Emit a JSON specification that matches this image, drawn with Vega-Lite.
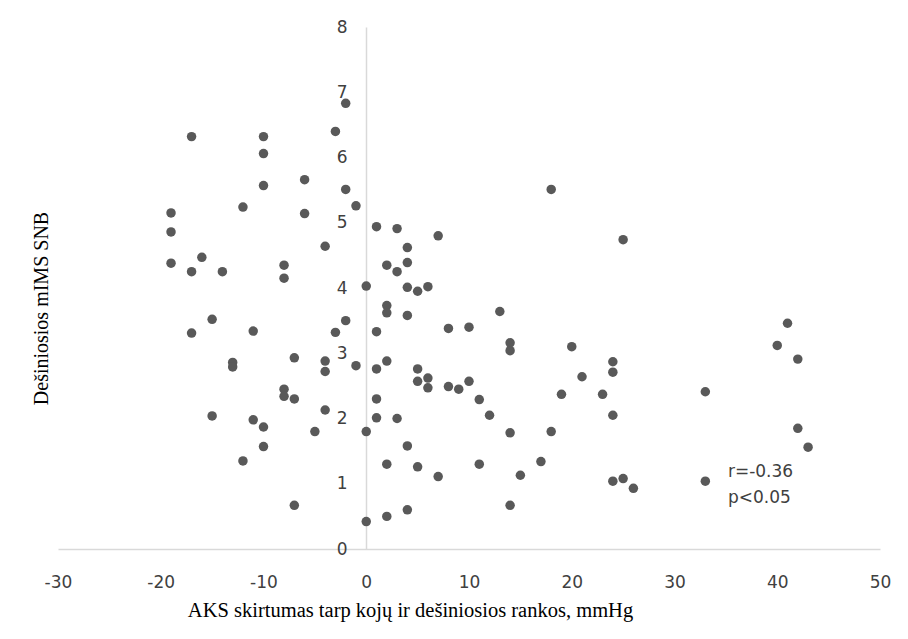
{
  "$schema": "https://vega.github.io/schema/vega-lite/v6.json",
  "width": 822,
  "height": 522,
  "autosize": {"type": "none"},
  "padding": {"left": 58, "top": 27, "right": 28, "bottom": 90},
  "background": "white",
  "config": {"view": {"stroke": null}},
  "datasets": {
    "pts": [
      {"x": -2, "y": 6.83}, {"x": -17, "y": 6.32}, {"x": -10, "y": 6.32}, {"x": -3, "y": 6.4},
      {"x": -10, "y": 6.06}, {"x": -6, "y": 5.66}, {"x": -2, "y": 5.51}, {"x": -10, "y": 5.57},
      {"x": -1, "y": 5.26}, {"x": -12, "y": 5.24}, {"x": -19, "y": 5.15}, {"x": -6, "y": 5.14},
      {"x": -19, "y": 4.86}, {"x": -4, "y": 4.64}, {"x": -16, "y": 4.47}, {"x": -19, "y": 4.38},
      {"x": -8, "y": 4.35}, {"x": -17, "y": 4.25}, {"x": -14, "y": 4.25}, {"x": -8, "y": 4.15},
      {"x": -15, "y": 3.52}, {"x": -2, "y": 3.5}, {"x": -17, "y": 3.31}, {"x": -11, "y": 3.34},
      {"x": -3, "y": 3.32}, {"x": -7, "y": 2.93}, {"x": -13, "y": 2.86}, {"x": -13, "y": 2.79},
      {"x": -4, "y": 2.88}, {"x": -4, "y": 2.72}, {"x": -1, "y": 2.81}, {"x": -8, "y": 2.45},
      {"x": -8, "y": 2.34}, {"x": -7, "y": 2.3}, {"x": -4, "y": 2.13}, {"x": -15, "y": 2.04},
      {"x": -11, "y": 1.98}, {"x": -10, "y": 1.87}, {"x": -5, "y": 1.8}, {"x": -10, "y": 1.57},
      {"x": -12, "y": 1.35}, {"x": -7, "y": 0.67},
      {"x": 0, "y": 4.03}, {"x": 0, "y": 1.8}, {"x": 0, "y": 0.42},
      {"x": 18, "y": 5.51}, {"x": 1, "y": 4.94}, {"x": 3, "y": 4.91}, {"x": 7, "y": 4.8},
      {"x": 4, "y": 4.62}, {"x": 2, "y": 4.35}, {"x": 4, "y": 4.39}, {"x": 3, "y": 4.25},
      {"x": 4, "y": 4.01}, {"x": 5, "y": 3.95}, {"x": 6, "y": 4.02}, {"x": 2, "y": 3.73},
      {"x": 2, "y": 3.62}, {"x": 4, "y": 3.58}, {"x": 13, "y": 3.64}, {"x": 1, "y": 3.33},
      {"x": 8, "y": 3.38}, {"x": 10, "y": 3.4}, {"x": 14, "y": 3.16}, {"x": 14, "y": 3.04},
      {"x": 1, "y": 2.76}, {"x": 2, "y": 2.88}, {"x": 5, "y": 2.76}, {"x": 5, "y": 2.57},
      {"x": 6, "y": 2.62}, {"x": 6, "y": 2.47}, {"x": 8, "y": 2.49}, {"x": 9, "y": 2.45},
      {"x": 10, "y": 2.57}, {"x": 11, "y": 2.29}, {"x": 12, "y": 2.05}, {"x": 1, "y": 2.3},
      {"x": 1, "y": 2.01}, {"x": 3, "y": 2.0}, {"x": 14, "y": 1.78}, {"x": 18, "y": 1.8},
      {"x": 4, "y": 1.58}, {"x": 2, "y": 1.3}, {"x": 5, "y": 1.26}, {"x": 7, "y": 1.11},
      {"x": 11, "y": 1.3}, {"x": 17, "y": 1.34}, {"x": 15, "y": 1.13}, {"x": 14, "y": 0.67},
      {"x": 4, "y": 0.6}, {"x": 2, "y": 0.5}, {"x": 25, "y": 4.74}, {"x": 20, "y": 3.1},
      {"x": 24, "y": 2.87}, {"x": 24, "y": 2.71}, {"x": 21, "y": 2.64}, {"x": 19, "y": 2.37},
      {"x": 23, "y": 2.37}, {"x": 33, "y": 2.41}, {"x": 24, "y": 2.05}, {"x": 24, "y": 1.04},
      {"x": 25, "y": 1.08}, {"x": 26, "y": 0.93}, {"x": 33, "y": 1.04}, {"x": 41, "y": 3.46},
      {"x": 40, "y": 3.12}, {"x": 42, "y": 2.91}, {"x": 42, "y": 1.85}, {"x": 43, "y": 1.56}
    ],
    "notes": [
      {"x": 35.2, "y": 1.18, "label": "r=-0.36"},
      {"x": 35.2, "y": 0.78, "label": "p<0.05"}
    ]
  },
  "layer": [
    {
      "data": {"name": "pts"},
      "mark": {"type": "circle", "size": 90, "color": "#595959", "opacity": 1},
      "encoding": {
        "x": {
          "field": "x", "type": "quantitative",
          "scale": {"domain": [-30, 50], "nice": false, "zero": false},
          "axis": {
            "values": [-30, -20, -10, 0, 10, 20, 30, 40, 50],
            "labelExpr": "datum.value + ''",
            "grid": false, "ticks": false, "tickSize": 0,
            "domainColor": "#d9d9d9", "domainWidth": 1.5,
            "labelFont": "DejaVu Sans", "labelFontSize": 17, "labelColor": "#404040",
            "labelPadding": 25, "labelFlush": false,
            "title": "AKS skirtumas tarp kojų ir dešiniosios rankos, mmHg",
            "titleFont": "Liberation Serif", "titleFontSize": 20.5, "titleFontWeight": "normal",
            "titleColor": "#000000", "titleX": 352, "titleY": 61, "titleAnchor": "middle",
            "titleAlign": "center", "titleBaseline": "middle"
          }
        },
        "y": {
          "field": "y", "type": "quantitative",
          "scale": {"domain": [0, 8], "nice": false, "zero": false},
          "axis": {
            "values": [0, 1, 2, 3, 4, 5, 6, 7, 8],
            "labelExpr": "datum.value + ''",
            "offset": -308,
            "grid": false, "ticks": false, "tickSize": 0,
            "domainColor": "#d9d9d9", "domainWidth": 1.5,
            "labelFont": "DejaVu Sans", "labelFontSize": 17, "labelColor": "#404040",
            "labelPadding": 19, "labelFlush": false,
            "title": "Dešiniosios mIMS SNB",
            "titleFont": "Liberation Serif", "titleFontSize": 20, "titleFontWeight": "normal",
            "titleColor": "#000000", "titleX": -325, "titleY": 281, "titleAngle": -90,
            "titleAlign": "center", "titleBaseline": "middle"
          }
        }
      }
    },
    {
      "data": {"name": "notes"},
      "mark": {"type": "text", "align": "left", "baseline": "middle", "font": "DejaVu Sans", "fontSize": 17, "color": "#404040"},
      "encoding": {
        "x": {"field": "x", "type": "quantitative"},
        "y": {"field": "y", "type": "quantitative"},
        "text": {"field": "label"}
      }
    }
  ]
}
